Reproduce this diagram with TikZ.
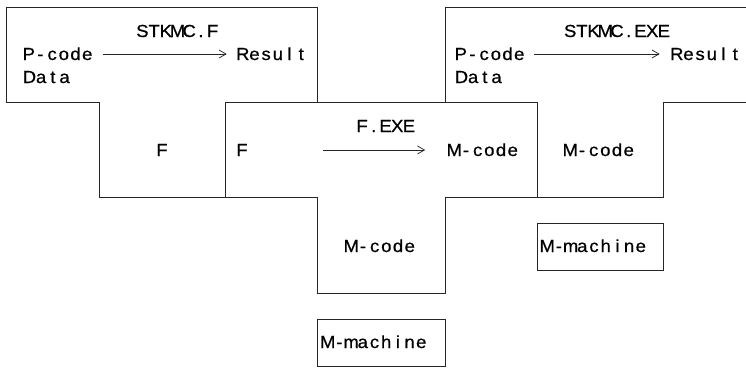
\documentclass[tikz,border=0pt]{standalone}
\usepackage{fontspec}
\setmainfont{Liberation Sans}
\newfontfamily\monofam[FakeStretch=1.06,FakeBold=0.6]{Liberation Sans}
\usetikzlibrary{arrows.meta}
\newcommand\mono[1]{\monoloop#1\relax}
\def\monoloop#1{\ifx#1\relax\else\makebox[11.7pt][c]{#1}\expandafter\monoloop\fi}
\begin{document}
\begin{tikzpicture}[x=1pt,y=-1pt,
  outline/.style={draw=black!85,line width=0.75pt},
  txt/.style={anchor=base,inner sep=0pt,text height=12pt,text depth=0pt,
    font=\monofam\fontsize{17.5}{20}\selectfont},
  arr/.style={draw=black!85,line width=0.75pt,-{Straight Barb[length=7pt,width=8pt]}}]
\useasboundingbox (0,0) rectangle (746,367);
\clip (0,0) rectangle (746,367);
% T1: STKMC.F
\draw[outline] (6,7) -- (317,7) -- (317,102) -- (225,102) -- (225,197) -- (99,197) -- (99,102) -- (6,102) -- cycle;
% T2: F.EXE
\draw[outline] (225,102) -- (537,102) -- (537,197) -- (445,197) -- (445,293) -- (317,293) -- (317,197) -- (225,197) -- cycle;
% T3: STKMC.EXE (cut at right)
\draw[outline] (760,7) -- (445,7) -- (445,102) -- (537,102) -- (537,197) -- (663,197) -- (663,102) -- (760,102);
% M-machine boxes
\draw[outline] (317,319) rectangle (445,366);
\draw[outline] (537,223) rectangle (663,270);
% texts T1
\node[txt] (t1name) at (177.5,37) {\mono{STKMC.F}};
\node[txt] (t1in) at (58,60) {\mono{P-code}};
\node[txt] (t1out) at (272,60) {\mono{Result}};
\node[txt] (t1data) at (47,83) {\mono{Data}};
\node[txt] (t1impl) at (162,156) {\mono{F}};
% texts T2
\node[txt] (t2name) at (385.5,132) {\mono{F.EXE}};
\node[txt] (t2in) at (242,156) {\mono{F}};
\node[txt] (t2out) at (483.5,156) {\mono{M-code}};
\node[txt] (t2impl) at (380.5,252) {\mono{M-code}};
\node[txt] (mach1) at (374.5,348) {\mono{M-machine}};
% texts T3
\node[txt] (t3name) at (617,37) {\mono{STKMC.EXE}};
\node[txt] (t3in) at (490,60) {\mono{P-code}};
\node[txt] (t3out) at (706,60) {\mono{Result}};
\node[txt] (t3data) at (479,83) {\mono{Data}};
\node[txt] (t3impl) at (599.5,156) {\mono{M-code}};
\node[txt] (mach2) at (594,252) {\mono{M-machine}};
% arrows
\draw[arr,shorten <=10pt,shorten >=10pt] (t1in.east) -- (t1out.west);
\draw[arr,shorten <=75pt,shorten >=23pt] (t2in.east) -- (t2out.west);
\draw[arr,shorten <=9pt,shorten >=11pt] (t3in.east) -- (t3out.west);
\end{tikzpicture}
\end{document}
